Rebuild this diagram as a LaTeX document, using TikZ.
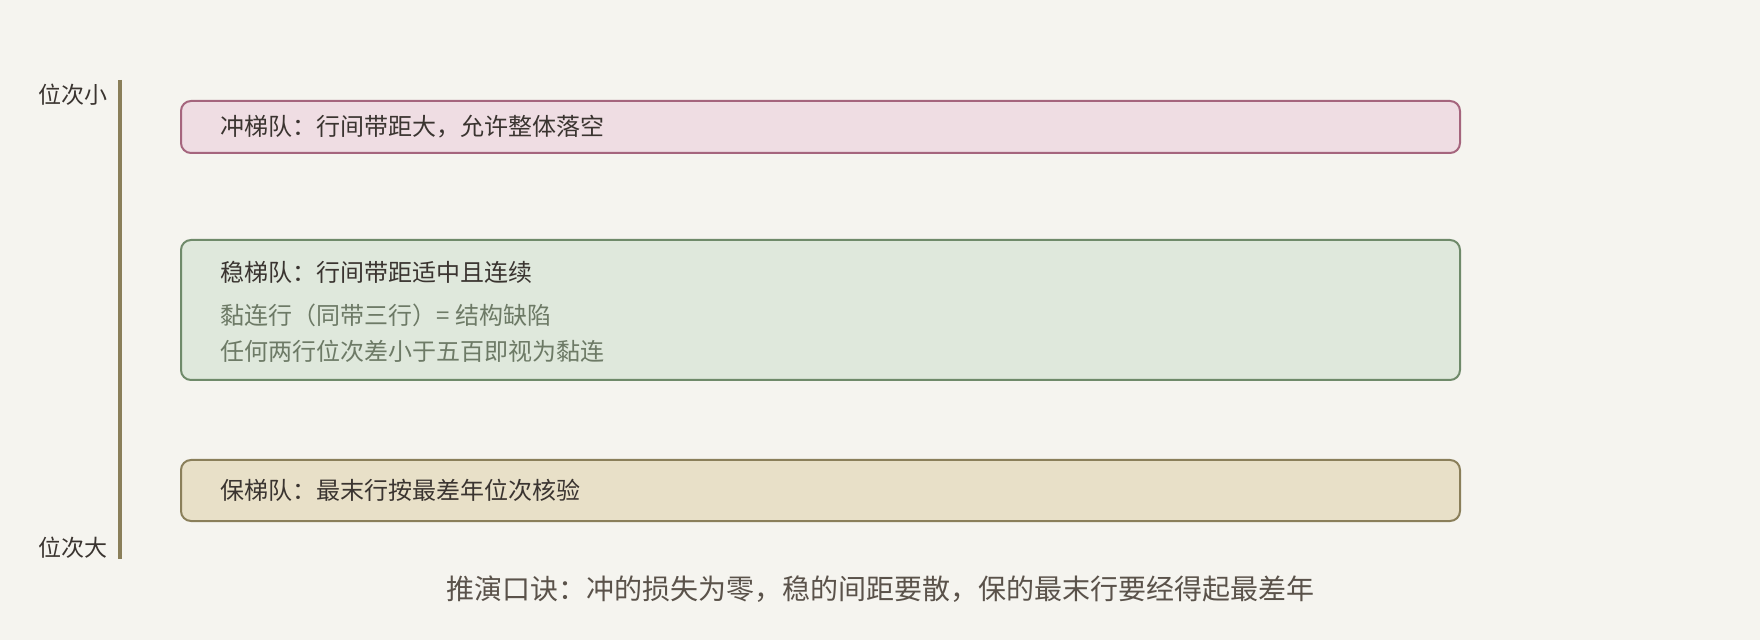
\documentclass[tikz,border=0pt]{standalone}
\usepackage{fontspec}
\setmainfont{Noto Sans CJK SC}
\usetikzlibrary{positioning}

\definecolor{paper}{HTML}{F5F4EF}
\definecolor{axisline}{HTML}{8A7F5A}
\definecolor{rushfill}{HTML}{EFDDE3}
\definecolor{rushdraw}{HTML}{A5657D}
\definecolor{steadyfill}{HTML}{DFE8DC}
\definecolor{steadydraw}{HTML}{6F8A6A}
\definecolor{safefill}{HTML}{E8E0C8}
\definecolor{safedraw}{HTML}{8A7F5A}
\definecolor{inktext}{HTML}{3A3430}
\definecolor{subtext}{HTML}{6D7A66}
\definecolor{mottotext}{HTML}{5A524A}

\begin{document}
\begin{tikzpicture}[x=0.5pt,y=-0.5pt,
band/.style={draw,rounded corners=5pt,line width=1pt,anchor=north west,minimum width=639.5pt,inner sep=0pt},
bandtext/.style={anchor=west,inner sep=0pt,text=inktext,font=\fontsize{12pt}{14pt}\selectfont},
notetext/.style={bandtext,text=subtext},
endlabel/.style={anchor=east,inner sep=0pt,text=inktext,font=\fontsize{11.5pt}{14pt}\selectfont}]

\fill[paper] (0,0) rectangle (1760,640);

% rank axis
\coordinate (top) at (119.5,80);
\coordinate (bottom) at (119.5,559);
\draw[axisline,line width=2pt] (top) -- (bottom);
\node[endlabel] (small) at (108,95) {位次小};
\node[endlabel] (large) at (108,548) {位次大};

% three bands
\node[band,fill=rushfill,draw=rushdraw,minimum height=26pt] (rush) at (180,100) {};
\node[band,fill=steadyfill,draw=steadydraw,minimum height=70pt] (steady) at (180,239) {};
\node[band,fill=safefill,draw=safedraw,minimum height=30.5pt] (safe) at (180,459) {};

\node[bandtext] (rushtitle) at (220,127) {冲梯队：行间带距大，允许整体落空};
\node[bandtext] (steadytitle) at (220,272) {稳梯队：行间带距适中且连续};
\node[notetext] (steadynote) at (220,315) {黏连行（同带三行）= 结构缺陷};
\node[notetext] (steadyrule) at (220,351) {任何两行位次差小于五百即视为黏连};
\node[bandtext] (safetitle) at (220,490) {保梯队：最末行按最差年位次核验};

\node[text=mottotext,font=\fontsize{14pt}{16pt}\selectfont,inner sep=0pt] (motto) at (880,589) {推演口诀：冲的损失为零，稳的间距要散，保的最末行要经得起最差年};
\end{tikzpicture}
\end{document}
